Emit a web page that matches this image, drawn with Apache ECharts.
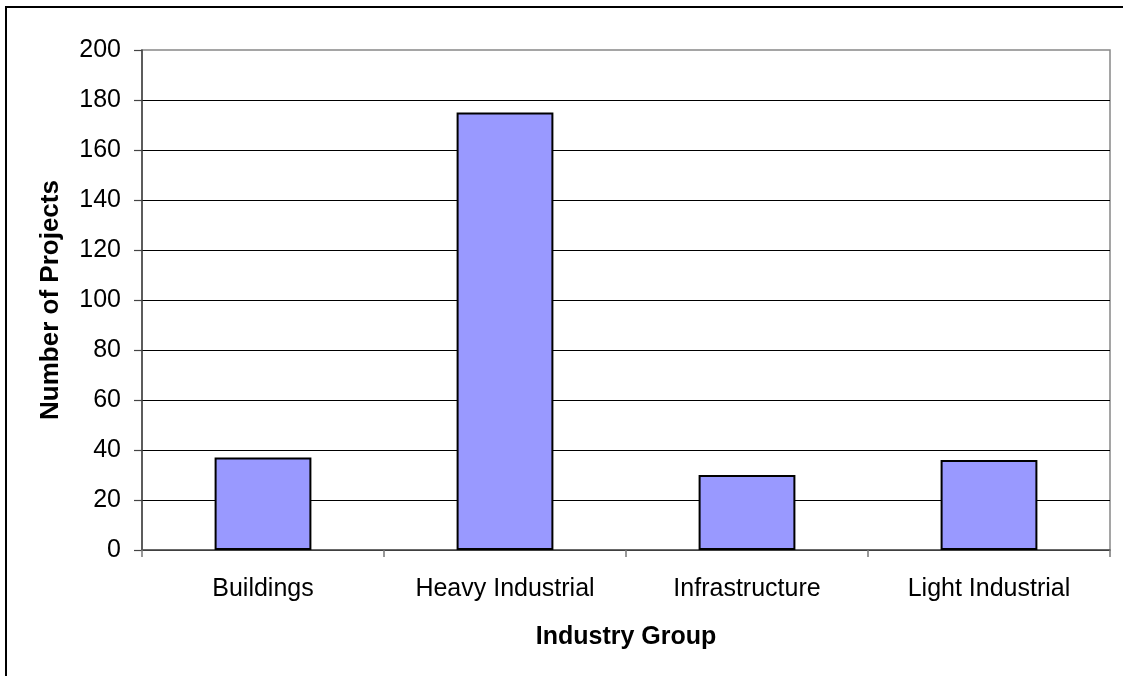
<!DOCTYPE html>
<html>
<head>
<meta charset="utf-8">
<script src="https://cdn.jsdelivr.net/npm/echarts@6/dist/echarts.min.js"></script>
<style>
  html, body { margin: 0; padding: 0; background: #fff; }
  #chart { width: 1123px; height: 676px; }
</style>
</head>
<body>
<div id="chart"></div>
<script>
// Projects counted per industry group
const categories = ['Buildings', 'Heavy Industrial', 'Infrastructure', 'Light Industrial'];
const projectCounts = [37, 175, 30, 36];
const yTicks = { min: 0, max: 200, step: 20 };

const font = 'Arial, "Liberation Sans", sans-serif';
const chart = echarts.init(document.getElementById('chart'), null, { renderer: 'canvas' });

chart.setOption({
  animation: false,
  backgroundColor: '#ffffff',
  graphic: [{
    type: 'rect',
    shape: { x: 6, y: 7, width: 1140, height: 700 },
    style: { fill: 'none', stroke: '#000', lineWidth: 2 },
    z: -1
  }],
  grid: {
    left: 142, right: 13, top: 50, bottom: 126,
    show: true, borderColor: '#888', borderWidth: 1.5, backgroundColor: 'transparent'
  },
  xAxis: {
    type: 'category',
    data: categories,
    name: 'Industry Group',
    nameLocation: 'middle',
    nameGap: 75,
    nameTextStyle: { fontFamily: font, fontSize: 25, fontWeight: 'bold', color: '#000' },
    axisLine: { lineStyle: { color: '#555', width: 1.5 } },
    axisTick: { show: true, alignWithLabel: false, length: 7, lineStyle: { color: '#777', width: 1.5 } },
    axisLabel: { fontFamily: font, fontSize: 25, color: '#000', margin: 27 },
    splitLine: { show: false }
  },
  yAxis: {
    type: 'value',
    min: yTicks.min, max: yTicks.max, interval: yTicks.step,
    name: 'Number of Projects',
    nameLocation: 'middle',
    nameGap: 78,
    nameRotate: 90,
    nameTextStyle: { fontFamily: font, fontSize: 26, fontWeight: 'bold', color: '#000' },
    axisLine: { show: true, lineStyle: { color: '#444', width: 1.5 } },
    axisTick: { show: true, length: 8, lineStyle: { color: '#444', width: 1.2 } },
    axisLabel: { fontFamily: font, fontSize: 25, color: '#000', margin: 21 },
    splitLine: { show: true, showMaxLine: false, lineStyle: { color: '#000', width: 1 } }
  },
  series: [{
    type: 'bar',
    data: projectCounts,
    barCategoryGap: '60%',
    itemStyle: { color: '#9999ff', borderColor: '#000', borderWidth: 2 }
  }]
});
</script>
</body>
</html>
